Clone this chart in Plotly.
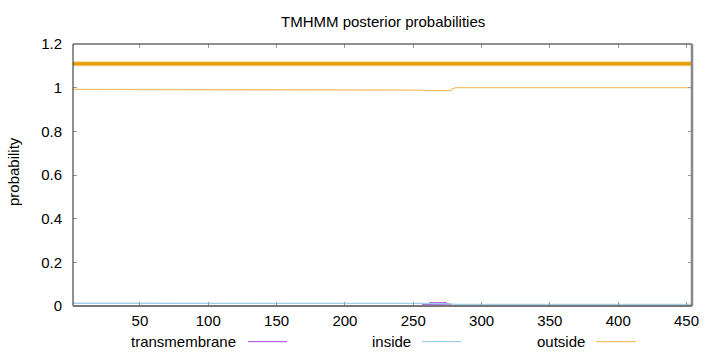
import plotly.graph_objects as go

# ---- data ----
seq_len = 454
x_ticks = [50, 100, 150, 200, 250, 300, 350, 400, 450]
y_ticks = [0, 0.2, 0.4, 0.6, 0.8, 1, 1.2]
y_tick_labels = ["0", "0.2", "0.4", "0.6", "0.8", "1", "1.2"]

# topology bar (outside over whole sequence)
topo_x = [1, 454]
topo_y = [1.11, 1.11]

# outside posterior probability (breakpoints)
out_x = [1, 181, 182, 256, 258, 277, 279, 281, 454]
out_y = [0.992, 0.992, 0.989, 0.989, 0.986, 0.986, 0.995, 1.0, 1.0]

# inside posterior probability (breakpoints)
in_x = [1, 203, 204, 256, 258, 277, 281, 454]
in_y = [0.0125, 0.0125, 0.015, 0.015, 0.012, 0.010, 0.007, 0.007]

# transmembrane posterior probability (impulses)
tm_x = [257, 258, 259, 260, 261, 262, 263, 264, 265, 266, 267, 268,
        269, 270, 271, 272, 273, 274, 275, 276, 277, 278]
tm_y = [0.008, 0.011, 0.013, 0.015, 0.016, 0.017, 0.018, 0.018, 0.019, 0.019, 0.019, 0.019,
        0.019, 0.019, 0.019, 0.018, 0.018, 0.017, 0.015, 0.013, 0.010, 0.006]

C_TM = "#b469e0"
C_IN = "#9fd0e8"
C_OUT = "#f0c26e"
C_TOPO = "#E69F00"

fig = go.Figure()
fig.add_trace(go.Bar(x=tm_x, y=tm_y, width=0.55, marker=dict(color=C_TM, line=dict(width=0)),
                     name="transmembrane", showlegend=False))
fig.add_trace(go.Scatter(x=in_x, y=in_y, mode="lines", line=dict(color=C_IN, width=1.3),
                         name="inside", showlegend=False))
fig.add_trace(go.Scatter(x=out_x, y=out_y, mode="lines", line=dict(color=C_OUT, width=1.3),
                         name="outside", showlegend=False))
fig.add_trace(go.Scatter(x=topo_x, y=topo_y, mode="lines", line=dict(color="#f3d08f", width=5),
                         showlegend=False, hoverinfo="skip"))
fig.add_trace(go.Scatter(x=topo_x, y=topo_y, mode="lines", line=dict(color=C_TOPO, width=3),
                         showlegend=False, hoverinfo="skip"))

font = dict(family="Liberation Sans, Arial, sans-serif", size=15, color="#000")

fig.update_layout(
    width=720, height=352,
    margin=dict(l=73, r=28, t=44, b=46),
    paper_bgcolor="white", plot_bgcolor="white",
    font=font,
    showlegend=False,
    bargap=0,
    xaxis=dict(range=[1, seq_len], tickvals=x_ticks, ticks="inside", ticklen=4,
               tickcolor="#999", mirror="ticks", showgrid=False, zeroline=False,
               showline=False, ticklabelstandoff=4, tickfont=font),
    yaxis=dict(range=[0, 1.2], tickvals=y_ticks, ticktext=y_tick_labels, ticks="inside",
               ticklen=4, tickcolor="#999", mirror="ticks", showgrid=False, zeroline=False,
               showline=False, ticklabelstandoff=10, tickfont=font),
)

# frame
shapes = [
    dict(type="line", xref="paper", yref="paper", x0=0, x1=0, y0=0, y1=1, line=dict(color="#222", width=1)),
    dict(type="line", xref="paper", yref="paper", x0=0, x1=1, y0=1, y1=1, line=dict(color="#222", width=1)),
    dict(type="line", xref="paper", yref="paper", x0=1, x1=1, y0=0, y1=1, line=dict(color="#888", width=2.5)),
    dict(type="line", xref="paper", yref="paper", x0=0, x1=1, y0=0, y1=0, line=dict(color="#777", width=2)),
]

def px_x(p):
    return (p - 73) / 619.0

def px_y(p):
    return (306 - p) / 262.0

legend_items = [("transmembrane", 238, 248, 287, C_TM),
                ("inside", 413, 422, 461, C_IN),
                ("outside", 587, 596, 636, C_OUT)]
annotations = []
ly = px_y(341.7)
for label, tx, l0, l1, col in legend_items:
    annotations.append(dict(text=label, xref="paper", yref="paper", x=px_x(tx), y=ly,
                            xanchor="right", yanchor="middle", showarrow=False, font=font))
    shapes.append(dict(type="line", xref="paper", yref="paper", x0=px_x(l0), x1=px_x(l1),
                       y0=ly, y1=ly, line=dict(color=col, width=1.3)))

annotations.append(dict(text="TMHMM posterior probabilities", xref="paper", yref="paper",
                        x=px_x(383.5), y=px_y(21), xanchor="center", yanchor="middle",
                        showarrow=False, font=font))
annotations.append(dict(text="probability", xref="paper", yref="paper", x=px_x(13), y=px_y(172),
                        xanchor="center", yanchor="middle", textangle=-90, showarrow=False, font=font))

fig.update_layout(shapes=shapes, annotations=annotations)
fig.write_html("out.html")
